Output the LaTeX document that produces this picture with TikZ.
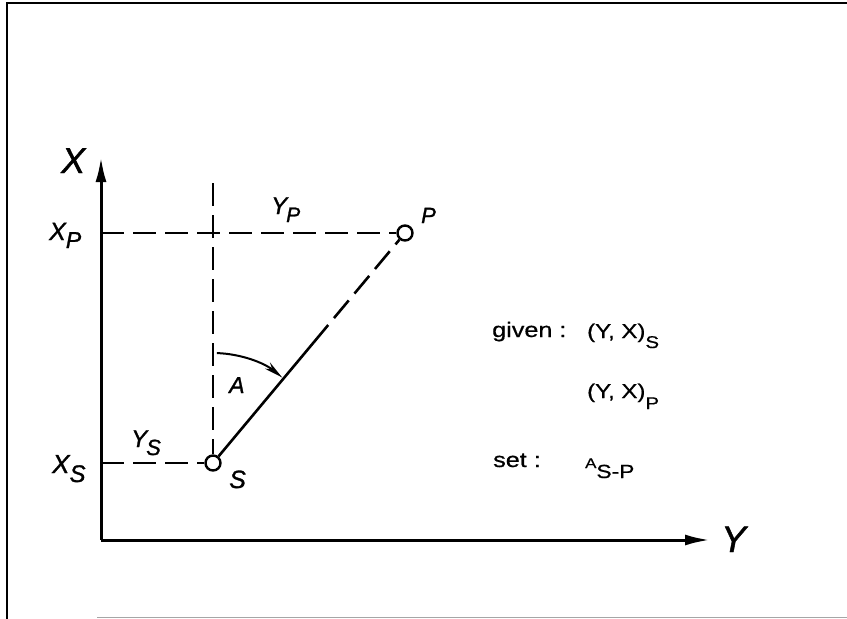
\documentclass[tikz,border=0pt]{standalone}
\usepackage{fontspec}
\setmainfont{Liberation Sans}[ItalicFeatures={FakeBold=1.2}]
\newfontfamily\widefont[FakeStretch=1.2,FakeBold=0.6]{Liberation Sans}
\usetikzlibrary{arrows.meta,calc}
\newcommand{\fsz}[1]{\fontsize{#1}{#1}\selectfont}
\newcommand{\lowr}[3]{\raisebox{-#1pt}{\fsz{#2}#3}}
\tikzset{
  axisline/.style={line width=3pt, -{Latex[length=25pt,width=11pt]}},
  dashline/.style={line width=2.6pt, dash pattern=on 23pt off 9pt},
  solidline/.style={line width=2.6pt},
  pointmark/.style={circle, draw, line width=2.4pt, fill=white, minimum size=15pt, inner sep=0pt},
  lbl/.style={anchor=base west, inner sep=0pt, font=\itshape},
  txt/.style={anchor=base west, inner sep=0pt, font=\widefont},
  framel/.style={line width=1.6pt}
}
\begin{document}
\begin{tikzpicture}[x=1pt,y=-1pt]
\fill[white] (0,0) rectangle (847,619);
\useasboundingbox (0,0) rectangle (847,619);
% frame
\coordinate (f1) at (7,619);
\coordinate (f2) at (7,3);
\coordinate (f3) at (847,3);
\coordinate (f4) at (97,617);
\coordinate (f5) at (847,617);
\draw[framel] (f1) -- (f2) -- (f3);
\draw[line width=0.8pt, black!35] (f4) -- (f5);
% axes
\coordinate (O) at (101,540);
\coordinate (xtip) at (101,157);
\coordinate (ytip) at (710,540);
\draw[axisline] (O) -- (xtip);
\draw[axisline] (O) -- (ytip);
% points
\node[pointmark] (S) at (213,463) {};
\node[pointmark] (P) at (405,233) {};
\coordinate (xp) at (101,233);
\coordinate (xs) at (101,463);
\coordinate (vtop) at (213,183);
\coordinate (mid) at ($(S.center)!0.6!(P.center)$);
\draw[dashline] (xp) -- (P);
\draw[dashline] (xs) -- (S);
\draw[dashline] (vtop) -- (S);
\draw[solidline] (S) -- (mid);
\draw[dashline, dash phase=23pt] (mid) -- (P);
% angle arc
\coordinate (arcstart) at ([shift={(88:110pt)}]S.center);
\draw[line width=2pt, -{Stealth[length=19pt,width=8pt]}] (arcstart) arc[start angle=88, end angle=51, radius=110pt];
% labels
\node[lbl] (lX) at (61,173) {\fsz{36}X};
\node[lbl] (lY) at (721,552) {\fsz{37}Y};
\node[lbl] (lXP) at (49,240) {\fsz{25}X\lowr{8}{23}{P}};
\node[lbl] (lXS) at (52,473) {\fsz{26}X\lowr{9}{24}{S}};
\node[lbl] (lYS) at (131,447) {\fsz{24}Y\kern-1pt\lowr{8}{22}{S}};
\node[lbl] (lYP) at (271,214) {\fsz{24}Y\kern-1pt\lowr{8}{21}{P}};
\node[lbl] (lA) at (229,393) {\fsz{23}A};
\node[lbl] (lS) at (229,488) {\fsz{25}S};
\node[lbl] (lP) at (421,223) {\fsz{22}P};
% right texts
\node[txt] (tgiven) at (492,337) {\fsz{21}given :};
\node[txt] (tYXS) at (587,338) {\fsz{20}(Y, X)\lowr{10}{17}{S}};
\node[txt] (tYXP) at (587,398) {\fsz{20}(Y, X)\lowr{11}{17}{P}};
\node[txt] (tset) at (493,467) {\fsz{21}set :};
\node[txt] (tASP) at (585,468) {\fsz{14}A\lowr{10}{19}{S-P}};
\end{tikzpicture}
\end{document}
